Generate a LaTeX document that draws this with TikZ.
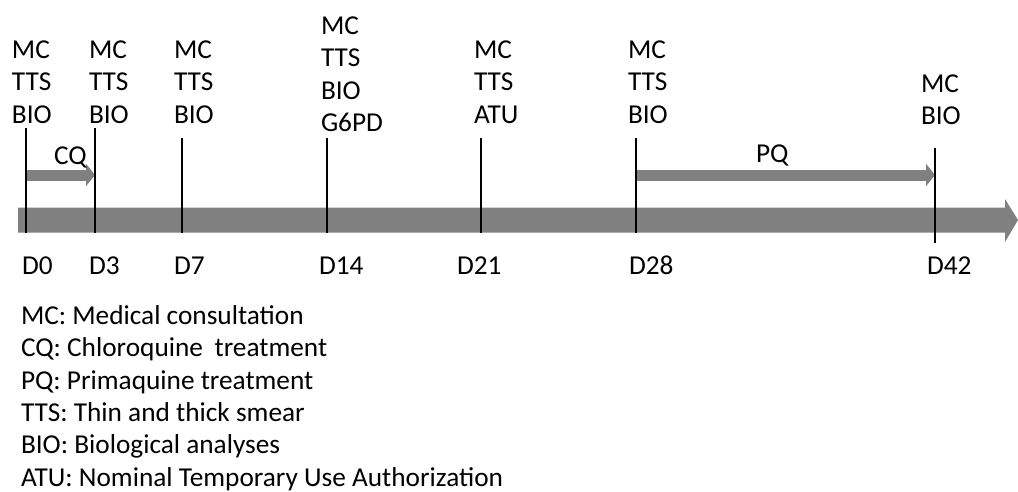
\documentclass[tikz,border=0pt]{standalone}
\usepackage{fontspec}
\setmainfont{Carlito}
\usetikzlibrary{arrows.meta}
\definecolor{bargray}{HTML}{808080}
\begin{document}
\begin{tikzpicture}[x=1pt,y=-1pt,
  lbl/.style={inner sep=0pt,outer sep=0pt,anchor=base west,align=left,
    font=\fontsize{27.3}{32.3}\selectfont,text=black},
  tick/.style={draw=black,line width=1.4pt},
  treat/.style={draw=bargray,line width=11pt,-{Triangle[length=9pt,width=22pt]}},
  timebar/.style={fill=bargray,draw=none}]
\useasboundingbox (0,0) rectangle (1018,491);
% main timeline arrow
\coordinate (tstart) at (18,220);
\coordinate (tend) at (1018,220);
\fill[timebar] (tstart) ++(0,-12.5) -- (1005,207.5) -- (1005,199) -- (tend) -- (1005,242) -- (1005,232.5) -- (18,232.5) -- cycle;
% tick coordinates
\foreach \n/\x/\top/\bot in {0/26/128/233,3/95/128/233,7/182/138/233,14/327/138/233,21/481/138/233,28/636/138/233,42/935/148/243}{
  \coordinate (top\n) at (\x,\top);
  \coordinate (bot\n) at (\x,\bot);
}
% treatment arrows
\coordinate (cqs) at (26,175);
\coordinate (cqe) at (95,175);
\coordinate (pqs) at (636,175);
\coordinate (pqe) at (935,175);
\draw[treat] (cqs) -- (cqe);
\draw[treat] (pqs) -- (pqe);
% ticks
\foreach \n in {0,3,7,14,21,28,42}{\draw[tick] (top\n) -- (bot\n);}
% top labels (anchored at the baseline of their last line)
\node[lbl] (l0) at (12,123.1) {MC\\TTS\\BIO};
\node[lbl] (l3) at (89,123.1) {MC\\TTS\\BIO};
\node[lbl] (l7) at (174,123.1) {MC\\TTS\\BIO};
\node[lbl] (l14) at (321,131.4) {MC\\TTS\\BIO\\G6PD};
\node[lbl] (l21) at (474,123.1) {MC\\TTS\\ATU};
\node[lbl] (l28) at (628,123.1) {MC\\TTS\\BIO};
\node[lbl] (l42) at (921,124.8) {MC\\BIO};
\node[lbl] (cq) at (54,164) {CQ};
\node[lbl] (pq) at (756,162) {PQ};
% day labels
\node[lbl] (d0) at (22,274.5) {D0};
\node[lbl] (d3) at (89,274.5) {D3};
\node[lbl] (d7) at (174,274.5) {D7};
\node[lbl] (d14) at (319,274.5) {D14};
\node[lbl] (d21) at (457,274.5) {D21};
\node[lbl] (d28) at (629,274.5) {D28};
\node[lbl] (d42) at (927,274.5) {D42};
% legend
\node[lbl] (legend) at (21,486) {MC: Medical consultation\\CQ: Chloroquine\hspace{0.2em} treatment\\PQ: Primaquine treatment\\TTS: Thin and thick smear\\BIO: Biological analyses\\ATU: Nominal Temporary Use Authorization};
\end{tikzpicture}
\end{document}
